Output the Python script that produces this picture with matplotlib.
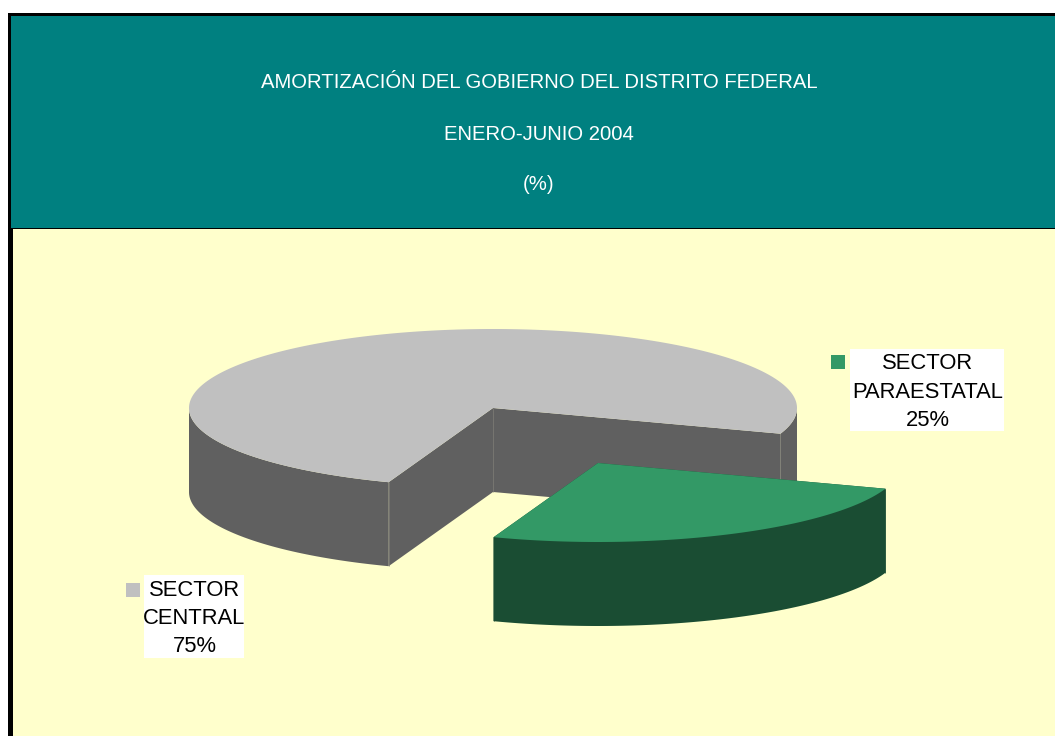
import numpy as np
import matplotlib
matplotlib.use("Agg")
import matplotlib.pyplot as plt
from matplotlib.patches import Polygon, Rectangle

plt.rcParams["font.family"] = ["Liberation Sans", "DejaVu Sans"]

# Data
categories = ["SECTOR\nPARAESTATAL", "SECTOR\nCENTRAL"]
shares = [25.3, 74.7]
title_lines = ["AMORTIZACIÓN DEL GOBIERNO DEL DISTRITO FEDERAL", "ENERO-JUNIO 2004", "(%)"]

# Pie geometry (pixels)
RX, RY, DEPTH = 304, 79, 84
START = 19.0
CENTERS = [(598, 463), (493, 408)]
TOP_COLORS = ["#339966", "#C0C0C0"]
SIDE_COLORS = ["#1A4D33", "#606060"]
EDGE_COLORS = ["#1A4D33", "#807F78"]


def arc(cx, cy, a0, a1, n=200):
    t = np.radians(np.linspace(a0, a1, n))
    return np.column_stack([cx + RX * np.cos(t), cy + RY * np.sin(t)])


def draw_slice(cx, cy, a0, a1, top, side, edge, z):
    # outer wall: only the parts of the rim facing the viewer
    for lo, hi in [(0, 180), (360, 540)]:
        lo2, hi2 = max(a0, lo), min(a1, hi)
        if hi2 > lo2:
            rim = arc(cx, cy, lo2, hi2)
            wall = np.vstack([rim, (rim + [0, DEPTH])[::-1]])
            ax.add_patch(Polygon(wall, fc=side, ec="none", zorder=z + 0.2))
    # cut faces
    for a in (a0, a1):
        p = arc(cx, cy, a, a, 1)[0]
        face = [(cx, cy), tuple(p), (p[0], p[1] + DEPTH), (cx, cy + DEPTH)]
        ax.add_patch(Polygon(face, fc=side, ec="none", zorder=z + 0.1))
        ax.plot([p[0], p[0]], [p[1], p[1] + DEPTH], color=edge, lw=0.5, zorder=z + 0.3,
                solid_capstyle="butt")
    ax.plot([cx, cx], [cy, cy + DEPTH], color=edge, lw=0.5, zorder=z + 0.15, solid_capstyle="butt")
    # top
    pts = np.vstack([[cx, cy], arc(cx, cy, a0, a1, 400)])
    ax.add_patch(Polygon(pts, fc=top, ec="none", zorder=z + 0.5))


fig = plt.figure(figsize=(10.55, 7.36), dpi=100, facecolor="white")
ax = fig.add_axes([0, 0, 1, 1])
ax.set_xlim(0, 1055)
ax.set_ylim(736, 0)
ax.axis("off")

# background panels and border
ax.add_patch(Rectangle((8, 13), 1047, 723, fc="black", ec="none", zorder=0))
ax.add_patch(Rectangle((11, 16), 1044, 212, fc="#008080", ec="none", zorder=1))
ax.add_patch(Rectangle((13, 229), 1042, 507, fc="#FFFFCC", ec="none", zorder=1))

for line, y in zip(title_lines, [82, 134, 185]):
    ax.text(539, y, line, color="white", fontsize=14.6, ha="center", va="center", zorder=4)

# slices, gray first so the exploded green one sits in front
angles = START + np.cumsum([0] + shares) * 3.6
draw_slice(*CENTERS[1], angles[1], angles[2], TOP_COLORS[1], SIDE_COLORS[1], EDGE_COLORS[1], 5)
draw_slice(*CENTERS[0], angles[0], angles[1], TOP_COLORS[0], SIDE_COLORS[0], EDGE_COLORS[0], 6)

# data labels
boxes = [(850, 349, 154, 82), (144, 575, 100, 83)]
keys = [(831, 355), (126, 583)]
for name, share, box, key, col in zip(categories, shares, boxes, keys, TOP_COLORS):
    ax.add_patch(Rectangle(box[:2], box[2], box[3], fc="white", ec="none", zorder=8))
    ax.add_patch(Rectangle(key, 14, 14, fc=col, ec="none", zorder=9))
    ax.text(box[0] + box[2] / 2 + 0.5, box[1] + box[3] / 2 + 2, f"{name}\n{share:.0f}%", color="black",
            fontsize=15.8, ha="center", va="center", linespacing=1.46, zorder=9)

fig.savefig("out.png", dpi=100)
